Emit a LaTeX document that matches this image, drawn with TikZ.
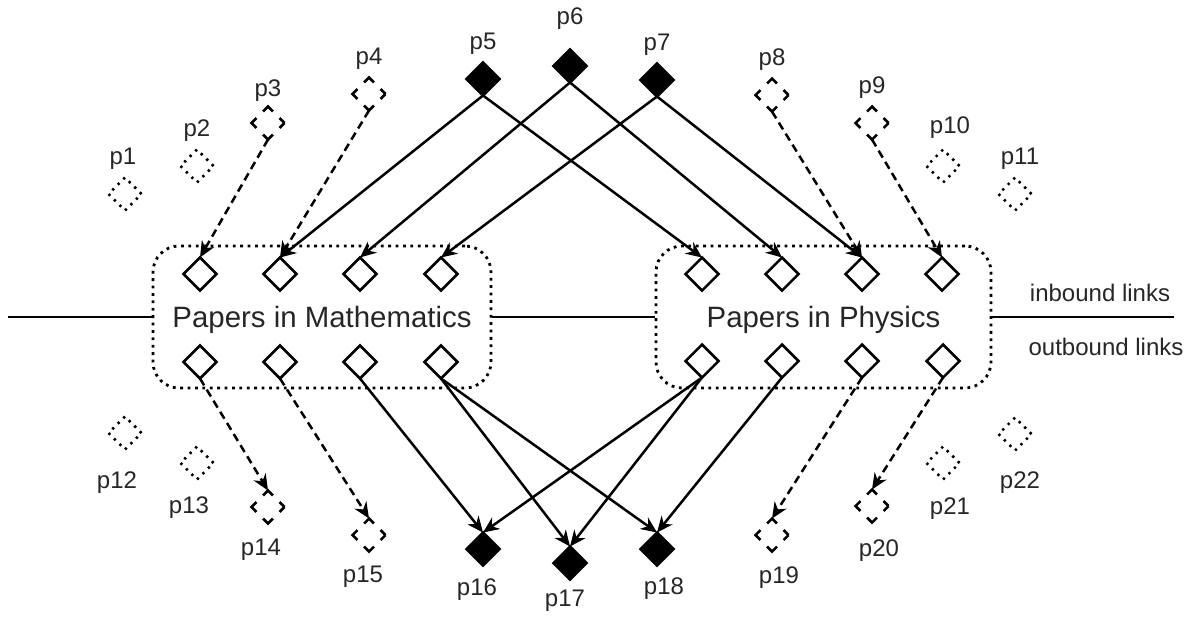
\documentclass[tikz,border=0pt]{standalone}
\usepackage{fontspec}
\setmainfont{Liberation Sans}
\usetikzlibrary{arrows.meta,shapes.geometric}

\begin{document}
\begin{tikzpicture}[x=0.5pt,y=-0.5pt,>={Stealth[length=8pt,width=7pt]},line width=1.25pt,
                    paper/.style={diamond,draw,aspect=1,minimum size=16.5pt,inner sep=0pt,outer sep=0pt},
                    cited/.style={paper,fill=black},
                    linked/.style={paper,dash pattern=on 7pt off 4.67pt,dash phase=3.5pt},
                    other/.style={paper,dash pattern=on 1.2pt off 2.69pt},
                    lbl/.style={font=\fontsize{12}{14}\selectfont,text=black!85},
                    field/.style={draw,rounded corners=13pt,dash pattern=on 1.4pt off 2.3pt,line width=1.4pt,
                                  minimum height=71pt,text depth=0pt,font=\fontsize{14.7}{17}\selectfont,text=black!85},
                    link/.style={->},
                    maybe/.style={->,dash pattern=on 4pt off 2.5pt}]

  \useasboundingbox (0,0) rectangle (1188,617);

  % the two fields
  \node[field,minimum width=169pt]   (math) at (322,317)   {Papers in Mathematics};
  \node[field,minimum width=167.5pt] (phys) at (823.5,317) {Papers in Physics};

  \coordinate (lend) at (8,317);
  \coordinate (rend) at (1174,317);
  \draw (lend) -- (math.west);
  \draw (math.east) -- (phys.west);
  \draw (phys.east) -- (rend);

  \node[lbl] (inb)  at (1100,293) {inbound links};
  \node[lbl] (outb) at (1106,347) {outbound links};

  % papers inside the fields
  \node[paper] (mi1) at (200,274) {};
  \node[paper] (mi2) at (280,274) {};
  \node[paper] (mi3) at (360,274) {};
  \node[paper] (mi4) at (441,274) {};
  \node[paper] (mo1) at (200,362) {};
  \node[paper] (mo2) at (280,362) {};
  \node[paper] (mo3) at (360,362) {};
  \node[paper] (mo4) at (441,362) {};
  \node[paper] (phi1) at (702,274) {};
  \node[paper] (phi2) at (782,274) {};
  \node[paper] (phi3) at (862,274) {};
  \node[paper] (phi4) at (942,274) {};
  \node[paper] (pho1) at (702,361) {};
  \node[paper] (pho2) at (782,361) {};
  \node[paper] (pho3) at (862,361) {};
  \node[paper] (pho4) at (943,361) {};

  % citing papers
  \node[other,label={[lbl,xshift=-1pt]above:p1}]            (p1)  at (125,194)  {};
  \node[other,label={[lbl]above:p2}]                        (p2)  at (197,166)  {};
  \node[linked,label={[lbl,yshift=-1.5pt]above:p3}]         (p3)  at (268,123)  {};
  \node[linked,label={[lbl]above:p4}]                       (p4)  at (369,94)   {};
  \node[cited,label={[lbl]above:p5}]                        (p5)  at (483,79)   {};
  \node[cited,label={[lbl,yshift=6pt]above:p6}]             (p6)  at (570,66)   {};
  \node[cited,label={[lbl]above:p7}]                        (p7)  at (657,80)   {};
  \node[linked,label={[lbl]above:p8}]                       (p8)  at (772,95)   {};
  \node[linked,label={[lbl]above:p9}]                       (p9)  at (872,123)  {};
  \node[other,label={[lbl,xshift=3.5pt,yshift=1.5pt]above:p10}] (p10) at (943,166) {};
  \node[other,label={[lbl,xshift=2.5pt]above:p11}]          (p11) at (1015,194) {};

  % cited papers
  \node[other,label={[lbl,xshift=-4pt,yshift=-7pt]below:p12}]     (p12) at (125,433)  {};
  \node[other,label={[lbl,xshift=-4pt,yshift=-4.5pt]below:p13}]   (p13) at (197,463)  {};
  \node[linked,label={[lbl,xshift=-3.5pt,yshift=-4pt]below:p14}]  (p14) at (268,507)  {};
  \node[linked,label={[lbl,xshift=-3pt,yshift=-3.5pt]below:p15}]  (p15) at (369,535)  {};
  \node[cited,label={[lbl,xshift=-3pt,yshift=-2.5pt]below:p16}]   (p16) at (483,549)  {};
  \node[cited,label={[lbl,xshift=-2.5pt,yshift=-1.5pt]below:p17}] (p17) at (570,563)  {};
  \node[cited,label={[lbl,xshift=3.5pt,yshift=-2pt]below:p18}]    (p18) at (657,549)  {};
  \node[linked,label={[lbl,xshift=3.5pt,yshift=-3.5pt]below:p19}] (p19) at (772,535)  {};
  \node[linked,label={[lbl,xshift=3.5pt,yshift=-4.5pt]below:p20}] (p20) at (872,506)  {};
  \node[other,label={[lbl,xshift=3.5pt,yshift=-5pt]below:p21}]    (p21) at (943,463)  {};
  \node[other,label={[lbl,xshift=2.5pt,yshift=-6.5pt]below:p22}]  (p22) at (1015,434) {};

  % inbound links
  \draw[maybe] (p3.south) -- (mi1.north);
  \draw[maybe] (p4.south) -- (mi2.north);
  \draw[link]  (p5.south) -- (mi2.north);
  \draw[link]  (p5.south) -- (phi1.north);
  \draw[link]  (p6.south) -- (mi3.north);
  \draw[link]  (p6.south) -- (phi2.north);
  \draw[link]  (p7.south) -- (mi4.north);
  \draw[link]  (p7.south) -- (phi3.north);
  \draw[maybe] (p8.south) -- (phi3.north);
  \draw[maybe] (p9.south) -- (phi4.north);

  % outbound links
  \draw[maybe] (mo1.south) -- (p14.north);
  \draw[maybe] (mo2.south) -- (p15.north);
  \draw[link]  (mo3.south) -- (p16.north);
  \draw[link]  (mo4.south) -- (p17.north);
  \draw[link]  (mo4.south) -- (p18.north);
  \draw[link]  (pho1.south) -- (p16.north);
  \draw[link]  (pho1.south) -- (p17.north);
  \draw[link]  (pho2.south) -- (p18.north);
  \draw[maybe] (pho3.south) -- (p19.north);
  \draw[maybe] (pho4.south) -- (p20.north);
\end{tikzpicture}
\end{document}
